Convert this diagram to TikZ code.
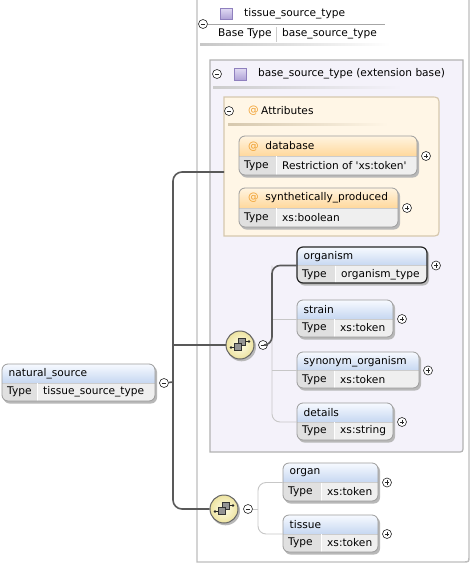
\documentclass[tikz,border=0pt]{standalone}
\usepackage{fontspec}
\setmainfont{DejaVu Sans}[Ligatures=TeXOff]
\usetikzlibrary{calc}
\definecolor{headtop}{HTML}{F7FAFF}
\definecolor{headbot}{HTML}{C6D7F1}
\definecolor{attop}{HTML}{FFF4E0}
\definecolor{atbot}{HTML}{FFD89C}
\definecolor{typecell}{HTML}{E0E0E0}
\definecolor{valcell}{HTML}{EFEFEF}
\definecolor{boxgray}{HTML}{9C9C9C}
\definecolor{outergray}{HTML}{BDBDBD}
\definecolor{innerfill}{HTML}{F4F2FA}
\definecolor{attfill}{HTML}{FFF6E6}
\definecolor{attborder}{HTML}{D6C8AE}
\definecolor{atsign}{HTML}{F0A030}
\definecolor{purtop}{HTML}{E2DCF4}
\definecolor{purbot}{HTML}{AFA2D6}
\definecolor{purline}{HTML}{8F80BE}
\definecolor{comptop}{HTML}{FFFDE8}
\definecolor{compbot}{HTML}{EDE3A0}
\tikzset{
 lbl/.style={inner sep=0pt, font=\fontsize{10.6}{12}\selectfont, text=black},
 boxline/.style={draw=boxgray, line width=0.8pt},
 boldline/.style={draw=black!85, line width=1.2pt},
 elhead/.style={top color=headtop, bottom color=headbot},
 athead/.style={top color=attop, bottom color=atbot},
 curhead/.style={elhead},
 trunk/.style={draw=black!65, line width=1.6pt},
 thinline/.style={draw=black!22, line width=0.9pt},
 minusc/.style={circle, draw=black!85, fill=white, minimum size=9pt, inner sep=0pt, line width=0.6pt,
   path picture={\draw[line width=0.7pt, shift={(path picture bounding box.center)}] (-2.3,0) -- (2.3,0);}},
 plusc/.style={minusc, path picture={\draw[line width=0.7pt, shift={(path picture bounding box.center)}] (-2.3,0) -- (2.3,0) (0,-2.3) -- (0,2.3);}},
 curmark/.style={plusc},
 compc/.style={circle, minimum size=28pt, inner sep=0pt, draw=black!60, line width=1pt, inner color=comptop, outer color=compbot},
 purp/.style={draw=purline, line width=0.6pt, top color=purtop, bottom color=purbot},
 shadowc/.style={fill=black!28},
 iconsq/.style={fill=black!42, draw=black!80, line width=0.6pt},
}
\newcommand\tprefix{}
\newcommand\toff{6.5}
% #1 border style, #2 id, #3 x1, #4 y1, #5 x2, #6 y2, #7 sep x, #8 title, #9 type
\newcommand\xbox[9][boxline]{%
  \pgfmathsetmacro\ym{(#4+#6)/2+0.5}%
  \fill[shadowc, rounded corners=6pt] (#3+1.5,#4+2) rectangle (#5+2,#6+2.5);
  \begin{scope}
    \clip[rounded corners=6pt] (#3,#4) rectangle (#5,#6);
    \shade[curhead] (#3,#4) rectangle (#5,\ym);
    \fill[typecell] (#3,\ym) rectangle (#7,#6);
    \fill[valcell] (#7,\ym) rectangle (#5,#6);
    \draw[black!20, line width=0.6pt] (#3,\ym) -- (#5,\ym);
    \draw[white, line width=0.8pt] (#7,\ym) -- (#7,#6);
  \end{scope}
  \draw[#1, rounded corners=6pt] (#3,#4) rectangle (#5,#6);
  \node[lbl, anchor=west] (#2-title) at (#3+\toff,{(#4+\ym)/2}) {\tprefix #8};
  \node[lbl, anchor=west] (#2-tk) at (#3+5,{(\ym+#6)/2}) {Type};
  \node[lbl, anchor=west] (#2-tv) at (#7+6,{(\ym+#6)/2}) {#9};
  \coordinate (#2) at (#3,\ym);
  \node[curmark] (#2-mark) at (#5+9,\ym) {};
}
\newcommand\compicon[1]{%
  \begin{scope}[shift={(#1.center)}]
    \draw[black!85, line width=0.7pt] (-9,2.5) -- (-5,2.5);
    \fill[black!85] (-9,2.5) circle (1.3);
    \draw[black!85, line width=0.7pt] (5,-3.5) -- (9,-3.5);
    \fill[black!85] (9,-3.5) circle (1.3);
    \draw[iconsq] (-2,-7) rectangle (5,0);
    \draw[iconsq] (-6,-1.5) rectangle (1,5.5);
  \end{scope}
}
\begin{document}
\begin{tikzpicture}[x=1pt, y=-1pt]
\useasboundingbox (0,0) rectangle (472,565);
\fill[white] (0,0) rectangle (472,565);

% ---- outer complex type box
\draw[outergray, line width=1.4pt] (197,-3) -- (197,562) -- (463,562) .. controls (469,562) .. (469,556) -- (469,-3);
\node[minusc] (tst-minus) at (203,24) {};
\draw[black!35, line width=0.8pt] (208,24.5) -- (385,24.5);
\draw[purp] (220,8) rectangle (232,19);
\node[lbl, anchor=west] (tst-title) at (244,14) {tissue\_source\_type};
\node[lbl, anchor=west] (tst-bt) at (218,34) {Base Type};
\draw[black!20, line width=0.8pt] (276,27) -- (276,42);
\node[lbl, anchor=west] (tst-bv) at (282,34) {base\_source\_type};
\shade[left color=black!22, right color=white] (200,43) rectangle (390,45);

% ---- inner extension box
\filldraw[fill=innerfill, draw=black!30, line width=1.2pt] (210,60) -- (463,60) -- (463,446) .. controls (463,452) .. (457,452) -- (210,452) -- cycle;
\node[minusc] (bst-minus) at (217,74) {};
\draw[purp] (234,68) rectangle (246,80);
\node[lbl, anchor=west] (bst-title) at (258,74) {base\_source\_type (extension base)};
\shade[left color=black!20, right color=innerfill] (213,86.5) rectangle (402,88);

% ---- attributes group
\filldraw[fill=attfill, draw=attborder, line width=1.2pt] (224,97) -- (430,97) .. controls (439,97) .. (439,106) -- (439,227) .. controls (439,236) .. (430,236) -- (224,236) -- cycle;
\node[minusc] (att-minus) at (229,111) {};
\node[lbl, anchor=west, text=atsign] (att-at) at (248,111) {@};
\node[lbl, anchor=west] (att-title) at (261,111) {Attributes};
\shade[left color=attborder, right color=attfill] (228,123.5) rectangle (388,125);
\coordinate (att-in) at (224,172);

\begin{scope}
  \tikzset{curhead/.style={athead}}
  \renewcommand\tprefix{\textcolor{atsign}{@}\hspace{6.5pt}}
  \renewcommand\toff{9}
  \xbox{db}{239}{136}{417}{175}{276}{database}{Restriction of 'xs:token'}
  \xbox{syn}{239}{188}{398}{227}{276}{synthetically\_produced}{xs:boolean}
\end{scope}

% ---- root element
\begin{scope}
  \tikzset{curmark/.style={minusc}}
  \xbox{ns}{2}{364}{155}{401}{37}{natural\_source}{tissue\_source\_type}
\end{scope}

% ---- sequence 1 children
\xbox[boldline]{org}{297}{247}{427}{283}{335}{organism}{organism\_type}
\xbox{str}{297}{300}{393}{337}{334}{strain}{xs:token}
\xbox{syo}{297}{352}{419}{388}{334}{synonym\_organism}{xs:token}
\xbox{det}{297}{403}{393}{440}{334}{details}{xs:string}

% ---- sequence 2 children
\xbox{organ}{283}{463}{378}{501}{321}{organ}{xs:token}
\xbox{tis}{283}{515}{378}{552}{321}{tissue}{xs:token}

% ---- compositors
\coordinate (c1pos) at (240,345);
\coordinate (c2pos) at (224,509);
\fill[shadowc] ($(c1pos)+(1.5,1.8)$) circle (14.5);
\fill[shadowc] ($(c2pos)+(1.5,1.8)$) circle (14.5);
\node[compc] (comp1) at (c1pos) {};
\node[compc] (comp2) at (c2pos) {};
\compicon{comp1}
\compicon{comp2}
\node[minusc] (c1-minus) at (263,345) {};
\node[minusc] (c2-minus) at (248,509) {};
\coordinate (br1) at (272,345);
\coordinate (br2) at (258,509);

% ---- connectors
\coordinate (tj1) at (173,345);
\coordinate (tj2) at (173,382);
\draw[trunk, rounded corners=9pt] (att-in) -- (att-in -| tj1) -- (tj1 |- comp2) -- (comp2);
\draw[trunk] (tj1) -- (comp1);
\draw[trunk] (ns-mark) -- (tj2);

\draw[thinline, rounded corners=8pt] (br1 |- org) -- (br1 |- det) -- (det);
\draw[thinline] (br1 |- str) -- (str);
\draw[thinline] (br1 |- syo) -- (syo);
\draw[trunk, rounded corners=8pt] (c1-minus) -- (br1) -- (br1 |- org) -- (org);

\draw[thinline] (c2-minus) -- (br2);
\draw[thinline, rounded corners=8pt] (organ) -- (br2 |- organ) -- (br2 |- tis) -- (tis);
\end{tikzpicture}
\end{document}
